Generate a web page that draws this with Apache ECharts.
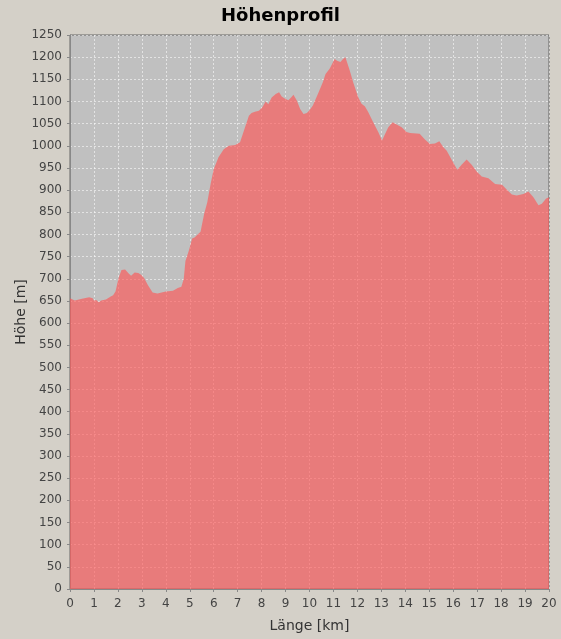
<!DOCTYPE html>
<html>
<head>
<meta charset="utf-8">
<script src="https://cdn.jsdelivr.net/npm/echarts@6/dist/echarts.min.js"></script>
<style>
html,body{margin:0;padding:0;background:#d4d0c8;}
#c{width:561px;height:639px;}
</style>
</head>
<body>
<div id="c"></div>
<script>
const titleText = 'Höhenprofil';
const xName = 'Länge [km]';
const yName = 'Höhe [m]';
const distanceKm = [0.0,0.2,0.5,0.8,0.95,1.0,1.1,1.2,1.3,1.5,1.7,1.8,1.9,2.0,2.05,2.15,2.3,2.45,2.55,2.7,2.85,2.97,3.1,3.25,3.45,3.65,4.0,4.3,4.5,4.65,4.75,4.82,4.96,5.1,5.2,5.45,5.6,5.73,5.87,6.0,6.2,6.42,6.63,6.9,7.1,7.26,7.47,7.58,7.72,7.89,8.03,8.17,8.28,8.42,8.59,8.73,8.84,8.98,9.12,9.23,9.33,9.47,9.61,9.75,9.89,10.0,10.14,10.35,10.56,10.67,10.84,11.05,11.15,11.29,11.4,11.5,11.68,11.82,12.03,12.17,12.31,12.45,12.66,12.87,13.03,13.15,13.29,13.47,13.64,13.85,14.05,14.2,14.6,14.82,15.03,15.24,15.42,15.59,15.73,15.93,16.17,16.35,16.56,16.77,16.98,17.19,17.47,17.75,18.04,18.24,18.45,18.65,18.93,19.14,19.35,19.56,19.7,19.88,20.0];
const elevationM = [656,651,655,658,656,651,652,647,651,653,660,663,671,695,705,720,721,712,707,714,713,709,701,686,669,667,671,673,679,682,700,740,763,791,793,806,846,872,914,947,974,992,1000,1002,1008,1034,1068,1074,1077,1079,1087,1100,1094,1109,1117,1121,1111,1106,1103,1109,1115,1102,1083,1072,1074,1080,1091,1117,1144,1162,1174,1196,1192,1189,1196,1200,1170,1144,1110,1095,1089,1076,1053,1031,1012,1026,1042,1053,1048,1042,1031,1029,1027,1014,1004,1005,1010,997,989,969,946,957,969,957,942,931,927,914,912,901,890,888,891,897,884,866,869,881,884];

const seriesData = distanceKm.map((d, i) => [d, elevationM[i]]);
const font = 'DejaVu Sans';

const chart = echarts.init(document.getElementById('c'), null, {renderer: 'canvas'});
chart.setOption({
  backgroundColor: '#d4d0c8',
  animation: false,
  title: {
    text: titleText, left: 'center', top: 2,
    textStyle: {fontFamily: font, fontSize: 18, fontWeight: 'bold', color: '#000'}
  },
  grid: {
    left: 70, right: 12, top: 35, bottom: 50,
    containLabel: false, outerBoundsMode: 'none',
    show: true, backgroundColor: '#c0c0c0', borderColor: '#666', borderWidth: 1
  },
  xAxis: {
    type: 'value', min: 0, max: 20, interval: 1, offset: 4,
    name: xName, nameLocation: 'middle', nameGap: 26, nameMoveOverlap: false,
    nameTextStyle: {fontFamily: font, fontSize: 14, color: '#333'},
    axisLine: {show: true, lineStyle: {color: '#888', width: 1}},
    axisTick: {show: true, length: 3, lineStyle: {color: '#888'}},
    axisLabel: {fontFamily: font, fontSize: 12, color: '#444', margin: 5, formatter: v => String(v)},
    splitLine: {show: true, lineStyle: {color: 'rgba(255,255,255,0.55)', width: 1, type: [2, 2]}}
  },
  yAxis: {
    type: 'value', min: 0, max: 1250, interval: 50, offset: 4,
    name: yName, nameLocation: 'middle', nameGap: 38, nameRotate: 90, nameMoveOverlap: false,
    nameTextStyle: {fontFamily: font, fontSize: 14, color: '#333'},
    axisLine: {show: true, lineStyle: {color: '#888', width: 1}},
    axisTick: {show: true, length: 3, lineStyle: {color: '#888'}},
    axisLabel: {fontFamily: font, fontSize: 12, color: '#444', margin: 4, formatter: v => String(v)},
    splitLine: {show: true, lineStyle: {color: 'rgba(255,255,255,0.55)', width: 1, type: [2, 2]}}
  },
  series: [{
    type: 'line',
    data: seriesData,
    showSymbol: false,
    symbol: 'none',
    smooth: false,
    lineStyle: {width: 0, color: 'rgba(255,85,85,0.65)'},
    itemStyle: {color: 'rgba(255,85,85,0.65)'},
    areaStyle: {color: 'rgba(255,84,84,0.64)', opacity: 1, origin: 'start'}
  }]
});
</script>
</body>
</html>
